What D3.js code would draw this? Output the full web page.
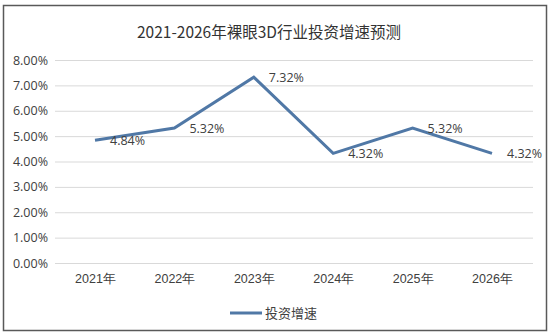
<!DOCTYPE html>
<html><head><meta charset="utf-8">
<script src="https://cdn.jsdelivr.net/npm/d3@7"></script>
<style>
html,body{margin:0;padding:0;background:#fff;}
svg{display:block;font-family:"Noto Sans CJK SC","Noto Sans",sans-serif;}
</style></head>
<body>
<svg id="c" width="550" height="335"></svg>
<script>
const title = "2021-2026年裸眼3D行业投资增速预测";
const categories = ["2021年","2022年","2023年","2024年","2025年","2026年"];
const values = [4.84, 5.32, 7.32, 4.32, 5.32, 4.32];
const yTicks = [0,1,2,3,4,5,6,7,8];
const seriesName = "投资增速";

const svg = d3.select("#c");
svg.append("rect").attr("x",3.5).attr("y",5.5).attr("width",543).attr("height",325)
  .attr("fill","#fff").attr("stroke","#595959").attr("stroke-width",1.5);

const x = d3.scalePoint().domain(categories).range([95,492]).padding(0);
const y = d3.scaleLinear().domain([0,8]).range([263,60]);

svg.append("text").attr("x",269).attr("y",38).attr("text-anchor","middle")
  .attr("font-size",15.5).attr("fill","#333").text(title);

const yAxis = d3.axisLeft(y).tickValues(yTicks).tickSize(-(533-55)).tickFormat(d=>d.toFixed(2)+"%");
const gy = svg.append("g").attr("transform","translate(55,0)").call(yAxis);
gy.select(".domain").remove();
gy.selectAll(".tick line").attr("stroke","#d9d9d9");
gy.selectAll(".tick text").attr("x",-7).attr("font-size",12.5).attr("fill","#404040")
  .attr("font-family","'Open Sans','Noto Sans',sans-serif");

const xAxis = d3.axisBottom(x).tickSize(0);
const gx = svg.append("g").attr("transform","translate(0,263)").call(xAxis);
gx.select(".domain").remove();
gx.selectAll(".tick text").attr("dy",0).attr("y",20).attr("font-size",12.5).attr("fill","#404040");

const line = d3.line().x((d,i)=>x(categories[i])).y(d=>y(d));
svg.append("path").datum(values).attr("d",line).attr("fill","none")
  .attr("stroke","#5078a6").attr("stroke-width",3).attr("stroke-linejoin","miter");

svg.selectAll(".lbl").data(values).enter().append("text")
  .attr("x",(d,i)=>x(categories[i])+15).attr("y",d=>y(d)+5)
  .attr("font-size",12.5).attr("fill","#404040")
  .attr("font-family","'Open Sans','Noto Sans',sans-serif")
  .text(d=>d.toFixed(2)+"%");

svg.append("line").attr("x1",230).attr("x2",262).attr("y1",313).attr("y2",313)
  .attr("stroke","#5078a6").attr("stroke-width",3);
svg.append("text").attr("x",265).attr("y",318).attr("font-size",13).attr("fill","#404040").text(seriesName);
</script>
</body></html>
